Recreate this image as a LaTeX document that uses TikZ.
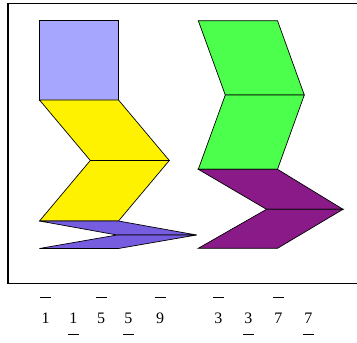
\documentclass[tikz,border=0pt]{standalone}
\usepackage[dvipsnames]{xcolor}
\usepackage{tikz}
\usepackage{fontspec}
\setmainfont{Liberation Serif}

\definecolor{squarelilac}{RGB}{166,166,255}
\definecolor{thinviolet}{RGB}{118,92,222}
\definecolor{rhomblime}{RGB}{76,255,76}
\definecolor{rhombplum}{RGB}{139,26,137}

\newcommand{\numsize}{\fontsize{16}{19}\selectfont}
\newcommand{\topbar}[1]{{\numsize\ooalign{#1\cr\hidewidth\rule[25.2pt]{11pt}{0.9pt}\hidewidth\cr}}}
\newcommand{\lowbar}[1]{{\numsize\ooalign{#1\cr\hidewidth\rule[-12pt]{11pt}{0.9pt}\hidewidth\cr}}}

\begin{document}
\begin{tikzpicture}[x=1pt,y=1pt,
        tile/.style={draw=black,line width=0.7pt,line join=miter},
        numlabel/.style={anchor=base,inner sep=0pt,font=\numsize}]
        \useasboundingbox (0,0) rectangle (357,343);
        \draw[line width=1.3pt] (8, 59.3) rectangle (362, 339.5);
        % left column
        \filldraw[tile,fill=squarelilac] (39.5, 243) rectangle (118.5, 322.3);
        \filldraw[tile,fill=yellow] (39.5, 243) -- (118.5, 243) -- (169.3, 182.5) -- (90.3, 182.5) -- cycle;
        \filldraw[tile,fill=yellow] (90.3, 182.5) -- (169.3, 182.5) -- (118.5, 122) -- (39.5, 122) -- cycle;
        \filldraw[tile,fill=thinviolet] (39.5, 122) -- (118.5, 122) -- (196.5, 108) -- (117, 108) -- cycle;
        \filldraw[tile,fill=thinviolet] (117, 108) -- (196.5, 108) -- (118.5, 94.5) -- (39.5, 94.5) -- cycle;
        % right column
        \filldraw[tile,fill=rhomblime] (198.3, 322.3) -- (277.5, 322.3) -- (304.3, 248) -- (225.3, 248) -- cycle;
        \filldraw[tile,fill=rhomblime] (225.3, 248) -- (304.3, 248) -- (277.5, 173.7) -- (198.3, 173.7) -- cycle;
        \filldraw[tile,fill=rhombplum] (198.3, 173.7) -- (277.5, 173.7) -- (343, 133.7) -- (266.5, 133.7) -- cycle;
        \filldraw[tile,fill=rhombplum] (266.5, 133.7) -- (343, 133.7) -- (277.5, 94.7) -- (198.3, 94.7) -- cycle;
        % labels
        \node[numlabel] (d1) at (45.7, 19.7) {\topbar{1}};
        \node[numlabel] (d2) at (73.3, 19.7) {\lowbar{1}};
        \node[numlabel] (d3) at (101, 19.7) {\topbar{5}};
        \node[numlabel] (d4) at (128.3, 19.7) {\lowbar{5}};
        \node[numlabel] (d5) at (160, 19.7) {\topbar{9}};
        \node[numlabel] (d6) at (218.3, 19.7) {\topbar{3}};
        \node[numlabel] (d7) at (248.3, 19.7) {\lowbar{3}};
        \node[numlabel] (d8) at (278.3, 19.7) {\topbar{7}};
        \node[numlabel] (d9) at (308.3, 19.7) {\lowbar{7}};
\end{tikzpicture}
\end{document}
